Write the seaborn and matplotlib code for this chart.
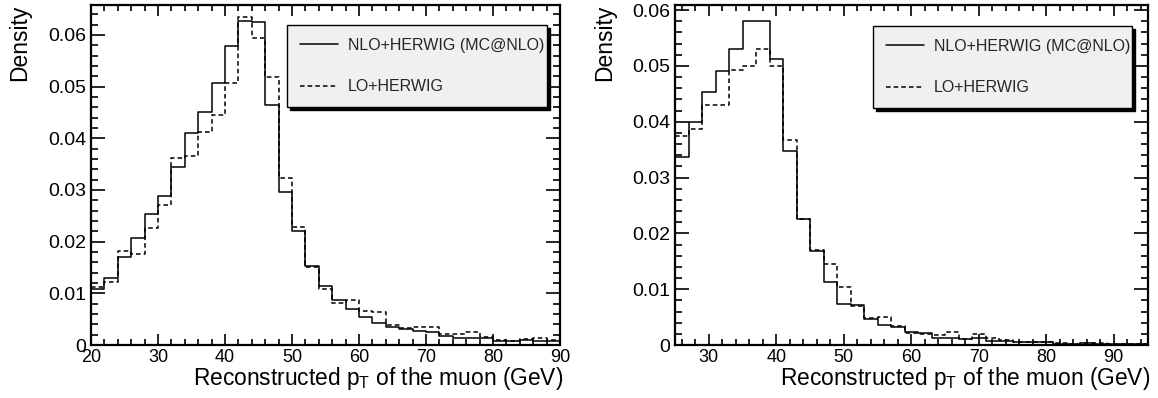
import numpy as np
import pandas as pd
import matplotlib
matplotlib.use("Agg")
import matplotlib.pyplot as plt
from matplotlib.ticker import MultipleLocator, FuncFormatter
import seaborn as sns

# ---------------- data ----------------
bin_width = 2
left_edges_start, left_edges_stop = 20, 90
right_edges_start, right_edges_stop = 25, 95

left_nlo = [0.0108, 0.0129, 0.0171, 0.0208, 0.0253, 0.0288, 0.0344, 0.0411, 0.0450, 0.0508,
            0.0579, 0.0627, 0.0625, 0.0465, 0.0296, 0.0221, 0.0152, 0.0115, 0.0088, 0.0070,
            0.0055, 0.0043, 0.0034, 0.0030, 0.0028, 0.0025, 0.0018, 0.0014, 0.0014, 0.0013,
            0.0008, 0.0007, 0.0010, 0.0007, 0.0008]
left_lo = [0.0112, 0.0121, 0.0182, 0.0177, 0.0227, 0.0271, 0.0361, 0.0366, 0.0413, 0.0446,
           0.0508, 0.0634, 0.0595, 0.0518, 0.0324, 0.0229, 0.0150, 0.0109, 0.0082, 0.0088,
           0.0066, 0.0064, 0.0039, 0.0033, 0.0034, 0.0034, 0.0021, 0.0022, 0.0025, 0.0015,
           0.0010, 0.0007, 0.0012, 0.0014, 0.0010]

right_nlo = [0.0336, 0.0399, 0.0453, 0.0491, 0.0530, 0.0580, 0.0580, 0.0513, 0.0348, 0.0226,
             0.0168, 0.0113, 0.0073, 0.0072, 0.0047, 0.0036, 0.0033, 0.0023, 0.0021, 0.0013,
             0.0013, 0.0010, 0.0012, 0.0007, 0.0008, 0.0005, 0.0005, 0.0005, 0.0002, 0.0002,
             0.0003, 0.0002, 0.0002, 0.0002, 0.0002]
right_lo = [0.0375, 0.0387, 0.0430, 0.0430, 0.0493, 0.0500, 0.0530, 0.0500, 0.0367, 0.0226,
            0.0170, 0.0145, 0.0103, 0.0069, 0.0049, 0.0050, 0.0034, 0.0021, 0.0019, 0.0018,
            0.0023, 0.0010, 0.0019, 0.0013, 0.0009, 0.0006, 0.0006, 0.0005, 0.0003, 0.0002,
            0.0003, 0.0003, 0.0002, 0.0001, 0.0002]

series_labels = ["NLO+HERWIG (MC@NLO)", "LO+HERWIG"]
x_label = r"Reconstructed p$_{\mathrm{T}}$ of the muon (GeV)"
y_label = "Density"

# ---------------- style ----------------
sns.set_theme(style="ticks")
plt.rcParams["font.family"] = ["Liberation Sans", "DejaVu Sans"]
plt.rcParams["mathtext.fontset"] = "custom"
plt.rcParams["mathtext.rm"] = "Liberation Sans"
plt.rcParams["mathtext.it"] = "Liberation Sans:italic"
plt.rcParams["mathtext.bf"] = "Liberation Sans:bold"

fig = plt.figure(figsize=(11.58, 3.98), dpi=100)
ax_l = fig.add_axes([91 / 1158, 1 - 345 / 398, 469 / 1158, 340 / 398])
ax_r = fig.add_axes([675 / 1158, 1 - 345 / 398, 472.5 / 1158, 340 / 398])


def draw_panel(ax, start, stop, nlo, lo, ymax, leg_box, ylab_x):
    edges = np.arange(start, stop + bin_width, bin_width)
    centers = edges[:-1] + bin_width / 2
    df = pd.DataFrame({"pt": centers, "nlo": nlo, "lo": lo})
    sns.histplot(data=df, x="pt", weights="nlo", binwidth=bin_width, binrange=(start, stop),
                 element="step", fill=False,
                 color="black", linewidth=1.1, linestyle="-", label=series_labels[0], ax=ax)
    sns.histplot(data=df, x="pt", weights="lo", binwidth=bin_width, binrange=(start, stop),
                 element="step", fill=False,
                 color="black", linewidth=1.1, linestyle=(0, (3, 2)), label=series_labels[1], ax=ax)
    ax.set_xlim(start, stop)
    ax.set_ylim(0, ymax)
    ax.xaxis.set_major_locator(MultipleLocator(10))
    ax.xaxis.set_minor_locator(MultipleLocator(2))
    ax.yaxis.set_major_locator(MultipleLocator(0.01))
    ax.yaxis.set_minor_locator(MultipleLocator(0.002))
    ax.yaxis.set_major_formatter(FuncFormatter(lambda v, p: "0" if abs(v) < 1e-9 else f"{v:.2f}"))
    ax.tick_params(axis="both", which="both", direction="in", top=True, right=True,
                   colors="black", width=1.2)
    ax.tick_params(axis="x", which="major", length=8, pad=3.0, labelsize=13)
    ax.tick_params(axis="x", which="minor", length=4)
    ax.tick_params(axis="y", which="major", length=10, pad=3.6, labelsize=14)
    ax.tick_params(axis="y", which="minor", length=5)
    for s in ax.spines.values():
        s.set_linewidth(1.6)
        s.set_color("black")
        s.set_visible(True)
    ax.set_xlabel(x_label, fontsize=16.4, loc="right", color="black")
    ax.xaxis.label.set_verticalalignment("baseline")
    ax.xaxis.set_label_coords(1.006, -0.117)
    ax.set_ylabel(y_label, fontsize=16.5, loc="top", color="black")
    ax.yaxis.set_label_coords(ylab_x, 1.0)
    handles, labels = ax.get_legend_handles_labels()
    leg = ax.legend(handles, labels, loc="upper left", bbox_to_anchor=leg_box, mode="expand",
                    borderaxespad=0, fontsize=11.5, frameon=True, fancybox=False,
                    facecolor="#f0f0f0", edgecolor="black", framealpha=1,
                    shadow={"color": "black", "alpha": 1},
                    handlelength=2.4, handletextpad=0.6, borderpad=0.8, labelspacing=1.65)
    leg.get_frame().set_linewidth(1.0)


draw_panel(ax_l, left_edges_start, left_edges_stop, left_nlo, left_lo, 0.0658,
           (0.418, 0.70, 0.554, 0.241), -0.128)
draw_panel(ax_r, right_edges_start, right_edges_stop, right_nlo, right_lo, 0.0609,
           (0.419, 0.697, 0.548, 0.241), -0.125)

fig.savefig("out.png", dpi=100)
